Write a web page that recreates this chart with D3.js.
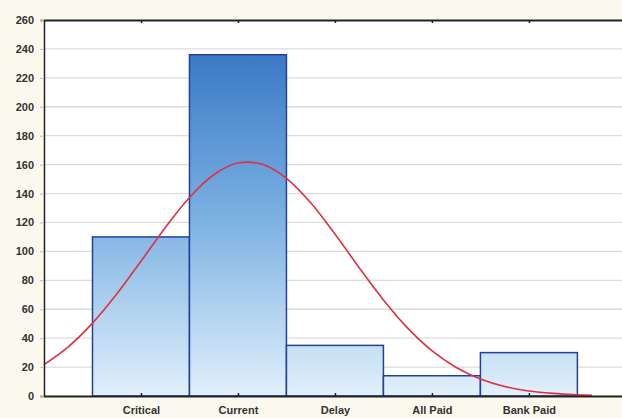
<!DOCTYPE html>
<html>
<head>
<meta charset="utf-8">
<script src="https://cdn.jsdelivr.net/npm/d3@7"></script>
<style>
  body { margin: 0; background: #fbf8ee; }
  svg { display: block; }
  .tick text { font-family: Arial, "Liberation Sans", sans-serif; font-weight: bold; font-size: 11px; fill: #333; }
</style>
</head>
<body>
<div id="chart"></div>
<script>
// Histogram data
const categories = ['Critical', 'Current', 'Delay', 'All Paid', 'Bank Paid'];
const counts = [110, 236, 35, 14, 30];
const yTicks = [0, 20, 40, 60, 80, 100, 120, 140, 160, 180, 200, 220, 240, 260];

// Fitted normal curve (x in category units, 1 = Critical)
const curveX = [0, 0.25, 0.5, 0.75, 1, 1.25, 1.5, 1.75, 2, 2.25, 2.5, 2.75, 3, 3.25,
  3.5, 3.75, 4, 4.25, 4.5, 4.75, 5, 5.25, 5.5, 5.65];
const curveY = [21.7, 34.0, 50.4, 70.5, 93.2, 116.4, 137.3, 153.0, 161.1, 160.2, 150.5, 133.6, 112.0, 88.7,
  66.4, 46.9, 31.3, 19.7, 11.8, 6.6, 3.5, 1.8, 0.8, 0.4];

const width = 622;
const height = 418;
const margin = {top: 20, right: 0, bottom: 22, left: 44};

const svg = d3.select('#chart').append('svg')
  .attr('width', width)
  .attr('height', height);

// x runs in category units: 0 at the left axis, category i centred at i
const x = d3.scaleLinear().domain([0, 5.96]).range([margin.left, width - margin.right]);
const y = d3.scaleLinear().domain([0, 260]).range([height - margin.bottom, margin.top]);

// plot area
svg.append('rect')
  .attr('x', margin.left)
  .attr('y', margin.top)
  .attr('width', width - margin.left)
  .attr('height', y(0) - margin.top)
  .attr('fill', '#ffffff');

// horizontal grid
svg.append('g')
  .selectAll('line')
  .data(yTicks.filter(d => d > 0 && d < 260))
  .join('line')
  .attr('x1', margin.left)
  .attr('x2', width)
  .attr('y1', d => y(d))
  .attr('y2', d => y(d))
  .attr('stroke', '#dcdcdc')
  .attr('stroke-width', 1.3);

// vertical gradient in chart space, dark at the top, pale at the bottom
const defs = svg.append('defs');
const grad = defs.append('linearGradient')
  .attr('id', 'barGrad')
  .attr('gradientUnits', 'userSpaceOnUse')
  .attr('x1', 0).attr('x2', 0)
  .attr('y1', y(236)).attr('y2', y(0));
grad.append('stop').attr('offset', '0%').attr('stop-color', '#3c79c6');
grad.append('stop').attr('offset', '45%').attr('stop-color', '#76aee1');
grad.append('stop').attr('offset', '100%').attr('stop-color', '#e2f0fb');

// bars
svg.append('g')
  .selectAll('rect')
  .data(counts)
  .join('rect')
  .attr('x', (d, i) => x(i + 0.5))
  .attr('y', d => y(d))
  .attr('width', (d, i) => x(i + 1.5) - x(i + 0.5))
  .attr('height', d => y(0) - y(d))
  .attr('fill', 'url(#barGrad)')
  .attr('stroke', '#23409a')
  .attr('stroke-width', 1.5);

// normal curve
const line = d3.line()
  .x(d => x(d[0]))
  .y(d => y(d[1]))
  .curve(d3.curveCatmullRom);
svg.append('path')
  .datum(d3.zip(curveX, curveY))
  .attr('d', line)
  .attr('fill', 'none')
  .attr('stroke', '#e03040')
  .attr('stroke-width', 1.6);

// left axis
const yAxis = svg.append('g')
  .attr('transform', 'translate(' + margin.left + ',0)')
  .call(d3.axisLeft(y).tickValues(yTicks).tickSize(4).tickPadding(6));
yAxis.select('.domain').attr('stroke', '#222').attr('stroke-width', 1.5);
yAxis.selectAll('.tick line').attr('stroke', '#bbb');

// bottom axis, ticks pointing inward at category centres
const xAxis = svg.append('g')
  .attr('transform', 'translate(0,' + y(0) + ')')
  .call(d3.axisBottom(x)
    .tickValues(categories.map((c, i) => i + 1))
    .tickFormat((d, i) => categories[i])
    .tickSizeInner(-3)
    .tickSizeOuter(0)
    .tickPadding(10));
xAxis.select('.domain').attr('stroke', '#222').attr('stroke-width', 2);
xAxis.selectAll('.tick line').attr('stroke', '#222').attr('stroke-width', 1.5);

// top frame line with inward ticks
const topAxis = svg.append('g')
  .attr('transform', 'translate(0,' + margin.top + ')')
  .call(d3.axisTop(x)
    .tickValues(categories.map((c, i) => i + 1))
    .tickFormat('')
    .tickSizeInner(-3)
    .tickSizeOuter(0));
topAxis.select('.domain').attr('stroke', '#222').attr('stroke-width', 2);
topAxis.selectAll('.tick line').attr('stroke', '#222').attr('stroke-width', 1.5);
</script>
</body>
</html>
